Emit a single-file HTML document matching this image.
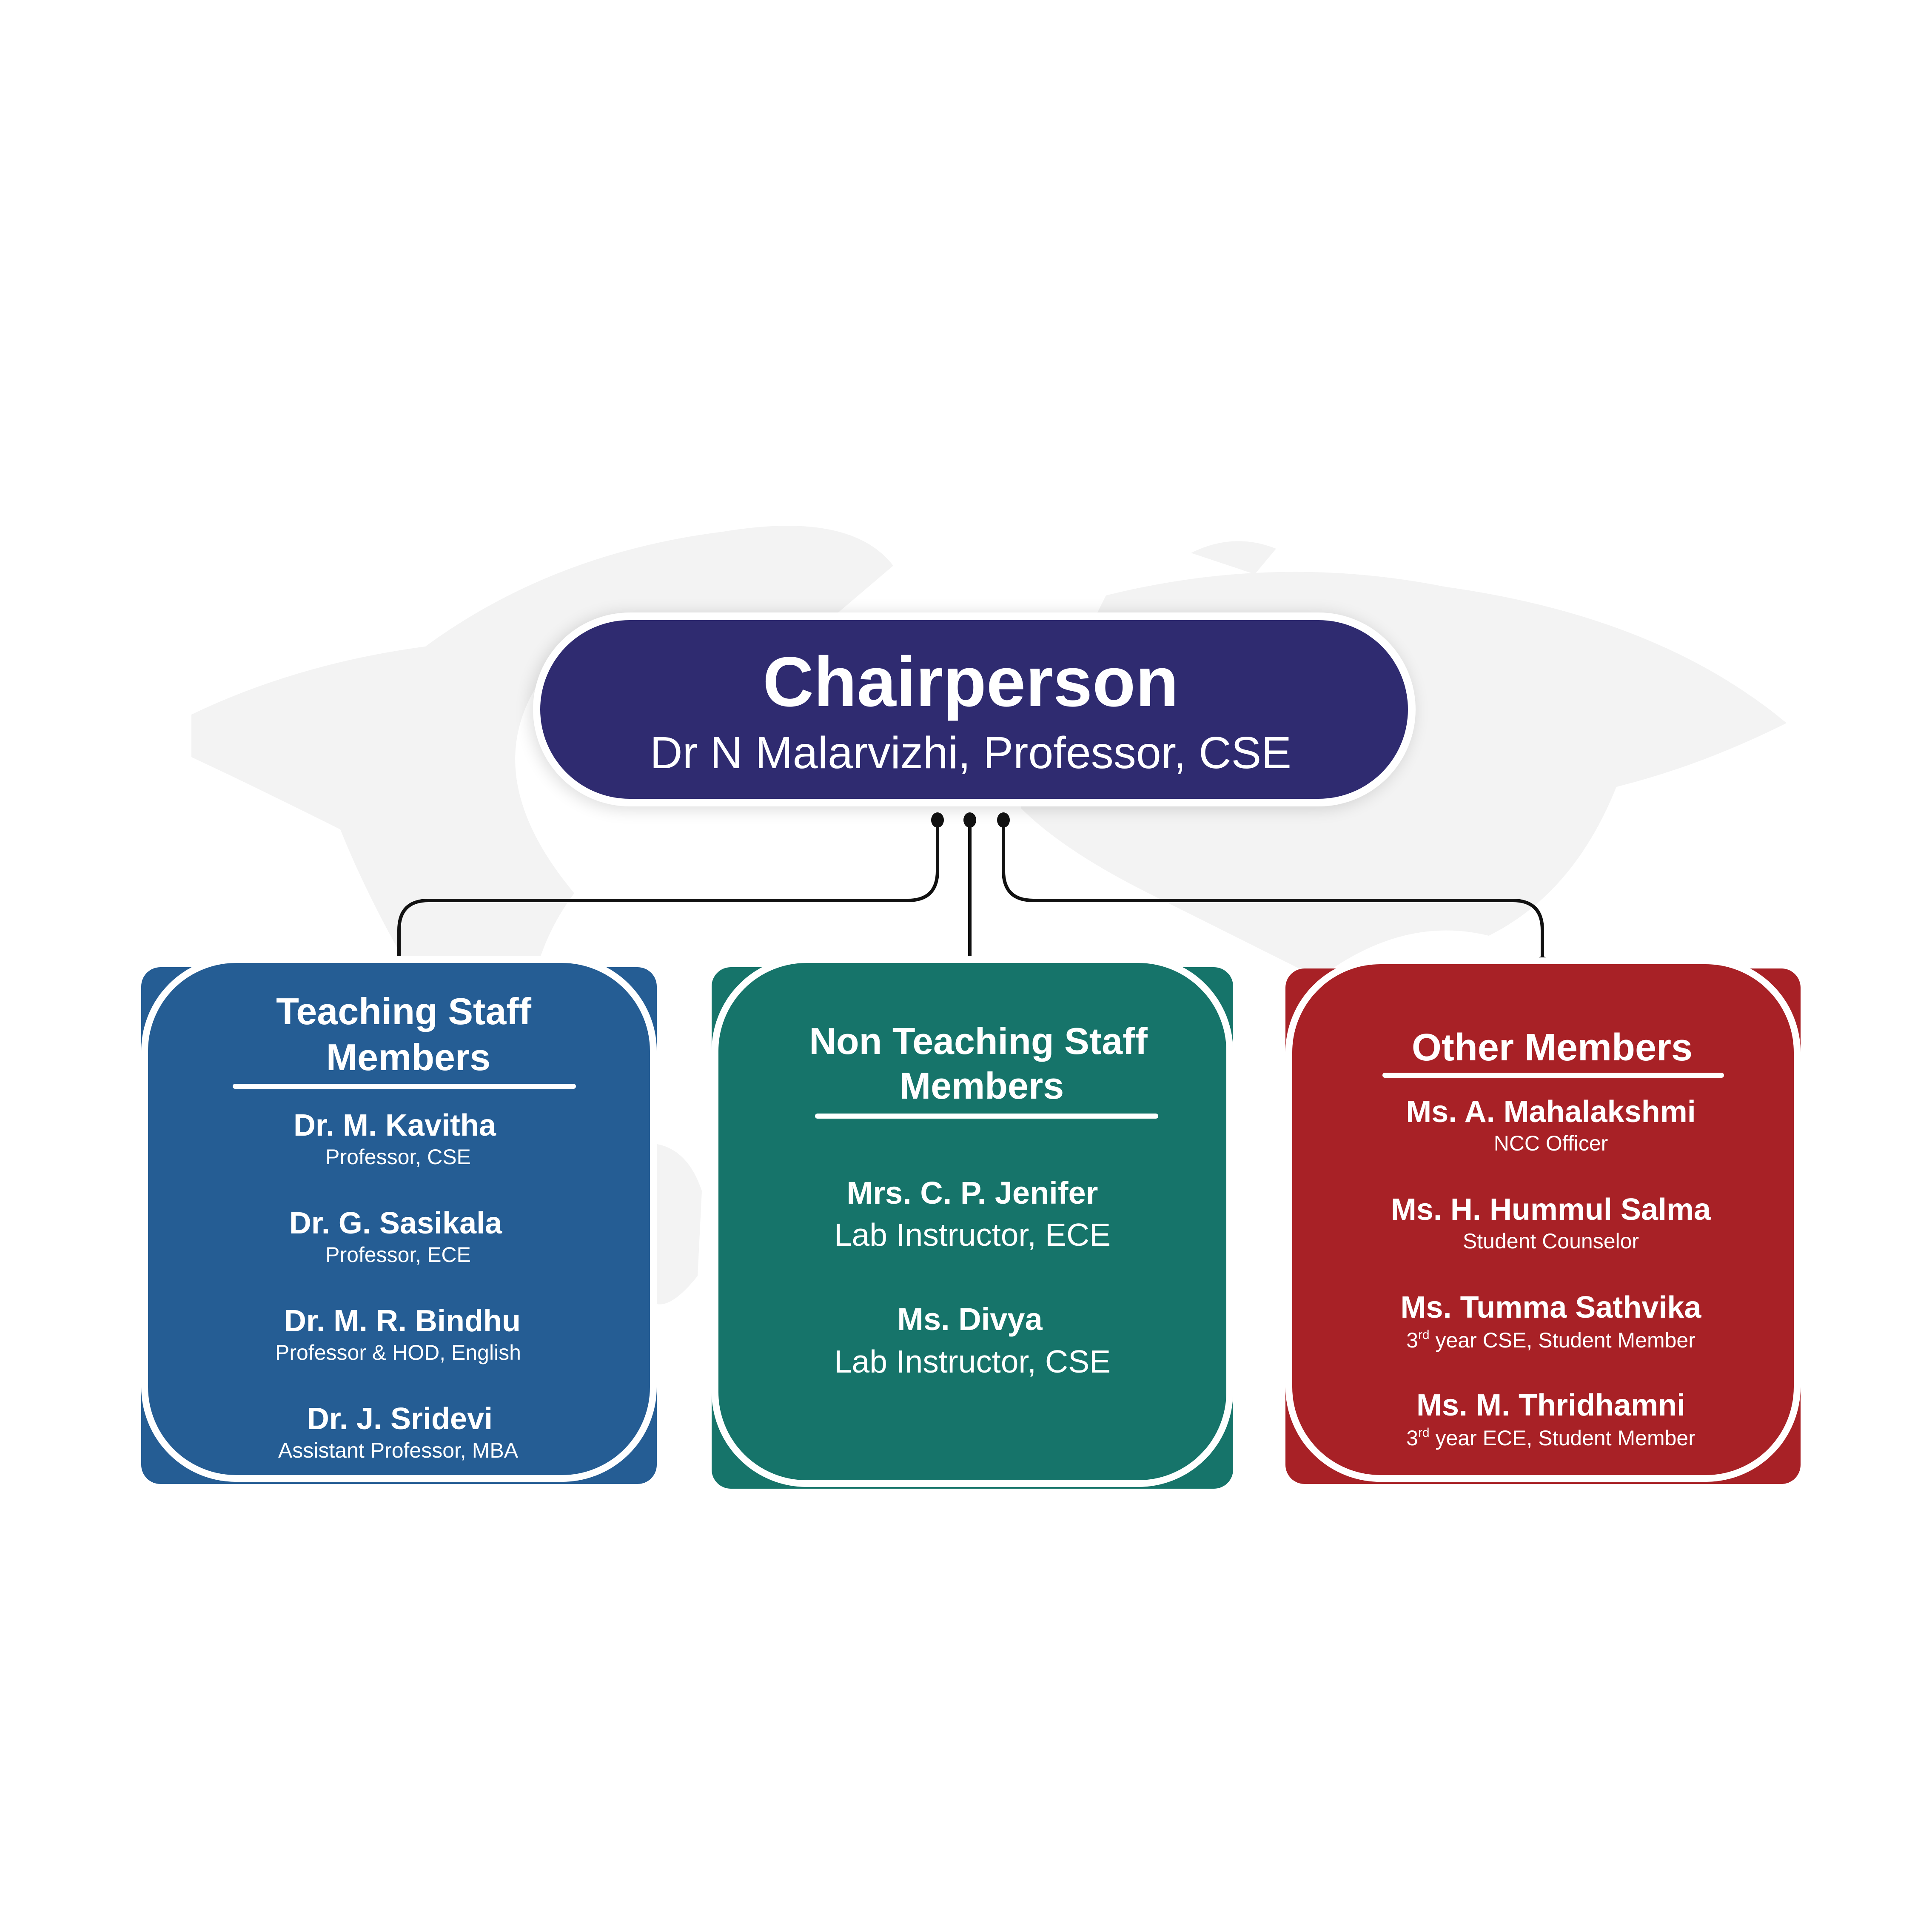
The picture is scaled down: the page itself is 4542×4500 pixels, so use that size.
<!DOCTYPE html>
<html><head><meta charset="utf-8"><style>
html,body{margin:0;padding:0;background:#fff;}
svg{display:block;}
text{font-family:"Liberation Sans",sans-serif;fill:#fff;text-anchor:middle;}
.t{font-weight:bold;}
.n{font-weight:bold;}
</style></head><body>
<svg width="4542" height="4500" viewBox="0 0 4542 4500" xmlns="http://www.w3.org/2000/svg">
<defs>
<radialGradient id="sh" cx="50%" cy="100%" r="50%">
<stop offset="0" stop-color="#c8c8c8"/><stop offset="0.6" stop-color="#dedede"/><stop offset="1" stop-color="#fff" stop-opacity="0"/>
</radialGradient>
<filter id="ds" x="-10%" y="-30%" width="120%" height="160%"><feGaussianBlur stdDeviation="18"/></filter>
</defs>
<g fill="#f3f3f3">
<path d="M450 1680 Q700 1560 1000 1520 Q1300 1300 1700 1250 Q2000 1200 2100 1330 L1900 1500 L1300 1560 Q1100 1800 1350 2100 Q1200 2300 1250 2600 L1100 2500 Q900 2200 800 1950 Q600 1850 450 1780 Z"/>
<path d="M1450 2700 Q1600 2650 1650 2800 L1640 3000 Q1560 3100 1520 3050 Z"/>
<path d="M2600 1400 Q3000 1300 3400 1380 Q3900 1450 4200 1700 Q4000 1800 3800 1850 Q3700 2100 3500 2200 Q3300 2150 3100 2300 Q2900 2200 2700 2100 Q2500 2000 2400 1900 L2500 1600 Z"/>
<path d="M2800 1300 Q2900 1250 3000 1290 L2950 1350 Z"/>
</g>
<rect x="1245" y="1440" width="2080" height="465" rx="232" fill="#000" opacity="0.12" filter="url(#ds)"/>
<rect x="1253" y="1440" width="2075" height="456" rx="228" fill="#fff"/>
<rect x="1270" y="1458" width="2040" height="420" rx="210" fill="#2f2b70"/>
<text x="2282" y="1660" class="t" font-size="166">Chairperson</text>
<text x="2282" y="1806" font-size="106">Dr N Malarvizhi, Professor, CSE</text>
<ellipse cx="938" cy="2280" rx="440" ry="110" fill="url(#sh)"/>
<ellipse cx="2282" cy="2280" rx="440" ry="110" fill="url(#sh)"/>
<ellipse cx="3626" cy="2280" rx="440" ry="110" fill="url(#sh)"/>
<g fill="none" stroke="#111" stroke-width="8">
<path d="M2204 1928 V2047 Q2204 2117 2134 2117 H1008 Q938 2117 938 2187 V2266"/>
<path d="M2280 1928 V2266"/>
<path d="M2359 1928 V2047 Q2359 2117 2429 2117 H3556 Q3626 2117 3626 2187 V2266"/>
</g>
<g fill="#111">
<ellipse cx="2204" cy="1928" rx="15" ry="18"/><ellipse cx="2280" cy="1928" rx="15" ry="18"/><ellipse cx="2359" cy="1928" rx="15" ry="18"/>
<ellipse cx="938" cy="2266" rx="15" ry="18"/><ellipse cx="2280" cy="2266" rx="15" ry="18"/><ellipse cx="3626" cy="2266" rx="15" ry="18"/>
</g>
<rect x="332" y="2274" width="1212" height="1215" rx="45" fill="#255d94"/>
<rect x="340" y="2256" width="1196" height="1220" rx="215" fill="#255d94" stroke="#fff" stroke-width="16"/>
<rect x="1673" y="2274" width="1226" height="1226" rx="45" fill="#16746a"/>
<rect x="1681" y="2256" width="1210" height="1232" rx="215" fill="#16746a" stroke="#fff" stroke-width="16"/>
<rect x="3022" y="2277" width="1211" height="1212" rx="45" fill="#a82126"/>
<rect x="3030" y="2259" width="1195" height="1217" rx="215" fill="#a82126" stroke="#fff" stroke-width="16"/>
<text x="949" y="2408" class="t" font-size="88">Teaching Staff</text>
<text x="960" y="2516" class="t" font-size="88">Members</text>
<rect x="547" y="2548" width="807" height="12" rx="6" fill="#fff"/>
<text x="928" y="2670" class="n" font-size="72">Dr. M. Kavitha</text>
<text x="936" y="2737" font-size="50">Professor, CSE</text>
<text x="930" y="2900" class="n" font-size="72">Dr. G. Sasikala</text>
<text x="936" y="2967" font-size="50">Professor, ECE</text>
<text x="946" y="3130" class="n" font-size="72">Dr. M. R. Bindhu</text>
<text x="936" y="3197" font-size="50">Professor &amp; HOD, English</text>
<text x="940" y="3360" class="n" font-size="72">Dr. J. Sridevi</text>
<text x="936" y="3427" font-size="50">Assistant Professor, MBA</text>
<text x="2300" y="2478" class="t" font-size="88">Non Teaching Staff</text>
<text x="2308" y="2583" class="t" font-size="88">Members</text>
<rect x="1916" y="2618" width="807" height="12" rx="6" fill="#fff"/>
<text x="2286" y="2830" class="n" font-size="74">Mrs. C. P. Jenifer</text>
<text x="2286" y="2929" font-size="75">Lab Instructor, ECE</text>
<text x="2280" y="3127" class="n" font-size="74">Ms. Divya</text>
<text x="2286" y="3227" font-size="75">Lab Instructor, CSE</text>
<text x="3649" y="2493" class="t" font-size="90">Other Members</text>
<rect x="3250" y="2522" width="803" height="12" rx="6" fill="#fff"/>
<text x="3646" y="2638" class="n" font-size="72">Ms. A. Mahalakshmi</text>
<text x="3646" y="2705" font-size="50">NCC Officer</text>
<text x="3646" y="2868" class="n" font-size="72">Ms. H. Hummul Salma</text>
<text x="3646" y="2935" font-size="50">Student Counselor</text>
<text x="3646" y="3098" class="n" font-size="72">Ms. Tumma Sathvika</text>
<text x="3646" y="3168" font-size="50">3<tspan font-size="30" dy="-20">rd</tspan><tspan dy="20"> year CSE, Student Member</tspan></text>
<text x="3646" y="3328" class="n" font-size="72">Ms. M. Thridhamni</text>
<text x="3646" y="3398" font-size="50">3<tspan font-size="30" dy="-20">rd</tspan><tspan dy="20"> year ECE, Student Member</tspan></text>
</svg>
</body></html>
